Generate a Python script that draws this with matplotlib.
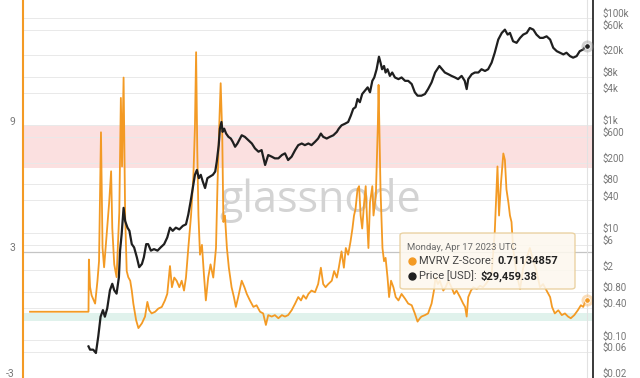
import matplotlib
matplotlib.use('Agg')
import matplotlib.pyplot as plt
from matplotlib import transforms
from matplotlib.patches import FancyBboxPatch
from matplotlib.lines import Line2D
from matplotlib.text import Annotation
from matplotlib.ticker import NullLocator

plt.rcParams['font.family'] = ['Roboto', 'DejaVu Sans']

#%% data (decimal years)
mvrv_year = [2009.01, 2010.51, 2010.52, 2010.55, 2010.59, 2010.68, 2010.74, 2010.78, 2010.83, 2010.87,
             2010.91, 2010.98, 2011.04, 2011.09, 2011.12, 2011.17, 2011.23, 2011.30, 2011.34, 2011.37,
             2011.41, 2011.45, 2011.49, 2011.53, 2011.58, 2011.62, 2011.66, 2011.73, 2011.79, 2011.88,
             2011.96, 2012.02, 2012.07, 2012.13, 2012.22, 2012.30, 2012.39, 2012.47, 2012.53, 2012.60,
             2012.65, 2012.71, 2012.77, 2012.84, 2012.90, 2012.96, 2013.01, 2013.07, 2013.14, 2013.20,
             2013.24, 2013.27, 2013.30, 2013.33, 2013.37, 2013.42, 2013.47, 2013.52, 2013.58, 2013.64,
             2013.71, 2013.78, 2013.82, 2013.87, 2013.90, 2013.94, 2013.97, 2014.01, 2014.06, 2014.11,
             2014.18, 2014.24, 2014.29, 2014.35, 2014.44, 2014.51, 2014.57, 2014.65, 2014.74, 2014.82,
             2014.91, 2014.99, 2015.06, 2015.12, 2015.21, 2015.29, 2015.38, 2015.47, 2015.55, 2015.63,
             2015.72, 2015.81, 2015.89, 2015.96, 2016.02, 2016.09, 2016.15, 2016.23, 2016.32, 2016.40,
             2016.47, 2016.53, 2016.59, 2016.66, 2016.75, 2016.81, 2016.88, 2016.93, 2017.00, 2017.06,
             2017.11, 2017.17, 2017.23, 2017.28, 2017.32, 2017.36, 2017.41, 2017.45, 2017.49, 2017.53,
             2017.58, 2017.62, 2017.65, 2017.69, 2017.73, 2017.79, 2017.82, 2017.88, 2017.93, 2017.95,
             2017.98, 2018.00, 2018.05, 2018.09, 2018.13, 2018.18, 2018.22, 2018.27, 2018.33, 2018.39,
             2018.46, 2018.54, 2018.63, 2018.71, 2018.80, 2018.88, 2018.95, 2019.01,
             2019.05, 2019.14, 2019.22, 2019.31, 2019.37, 2019.41, 2019.47, 2019.52, 2019.61, 2019.67,
             2019.74, 2019.82, 2019.89, 2019.95, 2020.04, 2020.12, 2020.17, 2020.21, 2020.25, 2020.32,
             2020.38, 2020.47, 2020.55, 2020.63, 2020.70, 2020.76, 2020.85, 2020.93, 2021.00, 2021.04,
             2021.09, 2021.15, 2021.19, 2021.23, 2021.28, 2021.32, 2021.36, 2021.40, 2021.49, 2021.58,
             2021.66, 2021.75, 2021.83, 2021.92, 2022.00, 2022.09, 2022.17, 2022.26, 2022.35, 2022.40,
             2022.47, 2022.56, 2022.65, 2022.73, 2022.81, 2022.88, 2022.97, 2023.06, 2023.14, 2023.20,
             2023.26, 2023.29]
mvrv_z = [0.16, 0.16, 2.65, 1.34, 0.94, 0.55, 1.64, 2.57, 8.72, 3.21,
          2.28, 3.97, 5.37, 6.86, 4.15, 2.42, 1.81, 4.91, 10.36, 7.09,
          11.33, 4.75, 2.10, 1.81, 1.64, 1.17, 0.55, -0.23, -0.62, -0.39,
          -0.07, 0.63, 0.23, 0.08, 0.16, 0.31, 0.39, 0.70, 1.01, 2.34,
          1.33, 1.79, 1.64, 1.33, 1.64, 1.17, 1.79, 3.20, 4.75, 6.62,
          8.96, 12.54, 7.87, 4.75, 2.88, 3.35, 1.95, 0.70, 1.79, 2.42,
          1.79, 3.20, 6.31, 9.43, 11.06, 8.65, 4.44, 4.75, 3.20, 2.26,
          1.33, 0.86, 0.39, 0.86, 1.64, 1.33, 1.01, 0.70, 0.39, 0.47,
          0.16, 0.08, -0.47, 0.00, -0.07, 0.00, -0.15, 0.00, -0.07, 0.00,
          0.23, 0.55, 0.86, 0.70, 0.94, 0.78, 1.01, 1.17, 1.09, 1.48,
          2.26, 1.48, 1.33, 1.48, 1.64, 2.10, 1.79, 2.26, 3.04, 2.26,
          3.20, 2.88, 3.50, 4.13, 4.75, 5.07, 6.00, 6.15, 4.75, 4.13,
          5.37, 6.15, 4.75, 3.20, 5.37, 6.15, 4.75, 5.69, 8.96, 10.98,
          7.87, 6.00, 3.20, 2.57, 2.73, 1.79, 0.86, 1.64, 1.33, 0.86,
          0.70, 1.01, 0.78, 0.55, 0.47, 0.08, -0.31, -0.15,
          -0.07, 0.00, 0.08, 0.55, 1.17, 1.79, 1.48, 1.64, 1.17, 1.33,
          1.64, 1.33, 1.01, 1.17, 0.86, 0.55, 0.39, -0.07, 0.86, 1.17,
          1.33, 1.25, 1.40, 1.33, 1.48, 1.64, 1.95, 3.97, 7.09, 4.75,
          6.31, 7.71, 7.40, 6.00, 5.37, 4.75, 4.44, 3.20, 1.95, 1.25,
          2.26, 2.73, 3.20, 2.57, 2.10, 1.33, 1.48, 1.17, 0.86, 0.39,
          0.08, 0.23, 0.00, 0.08, -0.07, -0.15, 0.00, 0.23, 0.47, 0.39,
          0.70, 0.71]

price_year = [2010.51, 2010.55, 2010.63, 2010.70, 2010.76, 2010.82, 2010.88, 2010.93, 2010.99, 2011.06,
              2011.12, 2011.17, 2011.23, 2011.29, 2011.32, 2011.36, 2011.41, 2011.45, 2011.51, 2011.56,
              2011.62, 2011.68, 2011.75, 2011.81, 2011.88, 2011.93, 2011.99, 2012.04, 2012.11, 2012.19,
              2012.28, 2012.36, 2012.45, 2012.53, 2012.60, 2012.67, 2012.75, 2012.84, 2012.93, 2013.01,
              2013.07, 2013.13, 2013.20, 2013.24, 2013.29, 2013.34, 2013.39, 2013.44, 2013.50, 2013.56,
              2013.63, 2013.70, 2013.76, 2013.80, 2013.85, 2013.88, 2013.92, 2013.95, 2013.99, 2014.04,
              2014.10, 2014.16, 2014.21, 2014.27, 2014.33, 2014.44, 2014.52, 2014.61, 2014.70, 2014.78,
              2014.87, 2014.95, 2015.04, 2015.12, 2015.21, 2015.29, 2015.38, 2015.47, 2015.55, 2015.63,
              2015.72, 2015.81, 2015.89, 2015.98, 2016.06, 2016.15, 2016.23, 2016.32, 2016.40, 2016.47,
              2016.53, 2016.62, 2016.70, 2016.79, 2016.88, 2016.93, 2017.00, 2017.09, 2017.17, 2017.24,
              2017.30, 2017.36, 2017.41, 2017.47, 2017.53, 2017.60, 2017.67, 2017.73, 2017.79, 2017.84,
              2017.90, 2017.96, 2018.00, 2018.04, 2018.09, 2018.13, 2018.18, 2018.24, 2018.30, 2018.37,
              2018.46, 2018.54, 2018.63, 2018.71, 2018.80, 2018.88, 2018.95, 2019.05, 2019.14, 2019.22,
              2019.31, 2019.40, 2019.51, 2019.58, 2019.65, 2019.74, 2019.82, 2019.91, 2019.99, 2020.08,
              2020.16, 2020.21, 2020.25, 2020.34, 2020.42, 2020.51, 2020.59, 2020.68, 2020.76, 2020.85,
              2020.93, 2021.02, 2021.11, 2021.19, 2021.26, 2021.32, 2021.40, 2021.49, 2021.58, 2021.66,
              2021.75, 2021.83, 2021.92, 2022.00, 2022.09, 2022.17, 2022.26, 2022.35, 2022.43, 2022.52,
              2022.60, 2022.69, 2022.77, 2022.86, 2022.94, 2023.03, 2023.11, 2023.20, 2023.26, 2023.29]
price_usd = [0.0774, 0.0673, 0.0673, 0.0583, 0.118, 0.276, 0.366, 0.276, 0.393, 0.857,
             1.13, 0.857, 0.741, 1.50, 4.67, 9.42, 29.2, 16.6, 12.5, 10.9,
             6.17, 5.36, 3.51, 2.30, 2.64, 3.51, 6.17, 6.17, 4.67, 4.99,
             4.67, 5.36, 6.17, 8.20, 12.5, 10.9, 12.5, 11.6, 13.5, 14.4,
             22.0, 38.8, 78.5, 120, 148, 104, 120, 90.6, 68.2, 104,
             112, 120, 138, 211, 428, 867, 1153, 755, 867, 702,
             610, 568, 493, 399, 459, 653, 610, 528, 459, 372,
             323, 346, 183, 280, 261, 243, 243, 280, 301, 226,
             261, 346, 428, 459, 428, 459, 428, 493, 568, 702,
             610, 568, 610, 653, 755, 867, 998, 1072, 1153, 1524,
             2023, 2178, 3090, 2692, 3819, 4395, 5077, 4111, 6714, 7762,
             11040, 18880, 14660, 11040, 12680, 9590, 11040, 8300, 9590, 7762,
             7228, 7762, 6714, 6714, 5848, 4111, 3556, 3556, 3819, 4721,
             6281, 9590, 12680, 11040, 9590, 8913, 8300, 7762, 7228, 8300,
             6714, 4721, 7228, 8913, 9590, 9590, 11040, 10250, 11040, 14660,
             22390, 39360, 52240, 60120, 48640, 52240, 36560, 34200, 42270, 48640,
             52240, 64570, 60120, 48640, 42270, 42270, 45190, 39360, 27670, 23930,
             22390, 20840, 22390, 19360, 18110, 19360, 23930, 25760, 29580, 29459.38]

z_ticks = [9, 3, -3]
z_labels = ['9', '3', '-3']
price_ticks = [100000, 60000, 20000, 8000, 4000, 1000, 600, 200, 80, 40,
               10, 6, 2, 0.8, 0.4, 0.1, 0.06, 0.02]
price_labels = ['$100k', '$60k', '$20k', '$8k', '$4k', '$1k', '$600', '$200', '$80', '$40',
                '$10', '$6', '$2', '$0.80', '$0.40', '$0.10', '$0.06', '$0.02']

tip_date = 'Monday, Apr 17 2023 UTC'
tip_z = '0.71134857'
tip_price = '$29,459.38'

ORANGE = '#f39a24'
BLACK = '#1f1f1f'

#%% figure
fig = plt.figure(figsize=(6.4, 3.78), dpi=100)
ax = fig.add_axes([23/640, 0, 570/640, 1])
ax2 = ax.twinx()

ax.set_xlim(2008.83, 2023.45)
ax.set_ylim(-2.63, 15.03)
ax2.set_yscale('log')
ax2.set_ylim(0.0237, 214000)

# zones and grid (grid follows the price ticks)
ax.axhspan(7, 9, color='#fbe0e0', lw=0, zorder=0)
ax.axhspan(-0.3, 0.1, color='#e0f2ec', lw=0, zorder=0)
ax.hlines(price_ticks, 0, 1, transform=ax2.get_yaxis_transform(),
          colors='#e9e9e9', lw=0.7, zorder=0.5)
ax.axhline(3, color='#c4c4c4', lw=0.9, zorder=0.6)
ax.axvline(mvrv_year[-1], color='#e2e2e2', lw=0.8, zorder=0.6)

ax.text(0.522, 0.47, 'glassnode', transform=ax.transAxes, fontsize=31,
        color='#d3d3d3', ha='center', va='center', zorder=0.7,
        family=['Open Sans', 'DejaVu Sans'])

ax.plot(mvrv_year, mvrv_z, color=ORANGE, lw=1.3, zorder=2)
ax2.plot(price_year, price_usd, color=BLACK, lw=1.6, zorder=2)

# hover markers at the last point
ax.scatter([mvrv_year[-1]], [mvrv_z[-1]], s=75, color='#f7b563', alpha=0.45, lw=0, zorder=3)
ax.scatter([mvrv_year[-1]], [mvrv_z[-1]], s=16, color=ORANGE, edgecolors='white', lw=0.6, zorder=4)
ax2.scatter([price_year[-1]], [price_usd[-1]], s=75, color='#9a9a9a', alpha=0.45, lw=0, zorder=3)
ax2.scatter([price_year[-1]], [price_usd[-1]], s=16, color=BLACK, edgecolors='white', lw=0.6, zorder=4)

# spines
for s in ['top', 'bottom', 'right']:
    ax.spines[s].set_visible(False)
for s in ['top', 'bottom', 'left']:
    ax2.spines[s].set_visible(False)
ax.spines['left'].set_color(ORANGE)
ax.spines['left'].set_linewidth(1.5)
ax2.spines['right'].set_color('#2a2a2a')
ax2.spines['right'].set_linewidth(1.3)

# ticks
ax.set_xticks([])
ax.set_yticks(z_ticks)
ax.set_yticklabels(z_labels)
ax.tick_params(axis='y', length=0, pad=5.8, labelsize=7.5, labelcolor='#777777')
ax2.set_yticks(price_ticks)
ax2.set_yticklabels([l.replace('$', r'\$') for l in price_labels])
ax2.yaxis.set_minor_locator(NullLocator())
ax2.tick_params(axis='y', length=0, pad=7.0, labelsize=7, labelcolor='#777777')

offset = transforms.ScaledTranslation(0, 0.05, fig.dpi_scale_trans)
for lab in ax.get_yticklabels() + ax2.get_yticklabels():
    lab.set_transform(lab.get_transform() + offset)

#%% tooltip
box = FancyBboxPatch((400/640, 1 - 289/378), 175/640, 56/378,
                     boxstyle='round,pad=0,rounding_size=0.006',
                     transform=fig.transFigure, facecolor='#fdf8ee',
                     edgecolor='#e8cd98', lw=1.0, alpha=0.88, zorder=5)
fig.add_artist(box)
fig.text(407/640, 1 - 248/378, tip_date, fontsize=6.8, color='#6a6a6a',
         va='center', zorder=6)
fig.add_artist(Line2D([412/640], [1 - 261/378], marker='o', ms=5, color=ORANGE,
                      lw=0, transform=fig.transFigure, zorder=6))
fig.add_artist(Line2D([412/640], [1 - 276/378], marker='o', ms=5, color=BLACK,
                      lw=0, transform=fig.transFigure, zorder=6))
t1 = fig.text(419/640, 1 - 261/378, 'MVRV Z-Score:', fontsize=8, color='#444444',
              va='center', zorder=6)
t2 = fig.text(419/640, 1 - 276/378, 'Price [USD]:', fontsize=8, color='#444444',
              va='center', zorder=6)
fig.add_artist(Annotation(tip_z, xy=(1, 0.5), xycoords=t1, xytext=(3, 0),
                          textcoords='offset points', va='center', ha='left',
                          fontsize=8, fontweight='bold', color='#222222', zorder=6))
fig.add_artist(Annotation(tip_price.replace('$', r'\$'), xy=(1, 0.5), xycoords=t2,
                          xytext=(3, 0), textcoords='offset points', va='center',
                          ha='left', fontsize=8, fontweight='bold', color='#222222',
                          zorder=6))

fig.savefig('out.png', dpi=100, facecolor='white')
